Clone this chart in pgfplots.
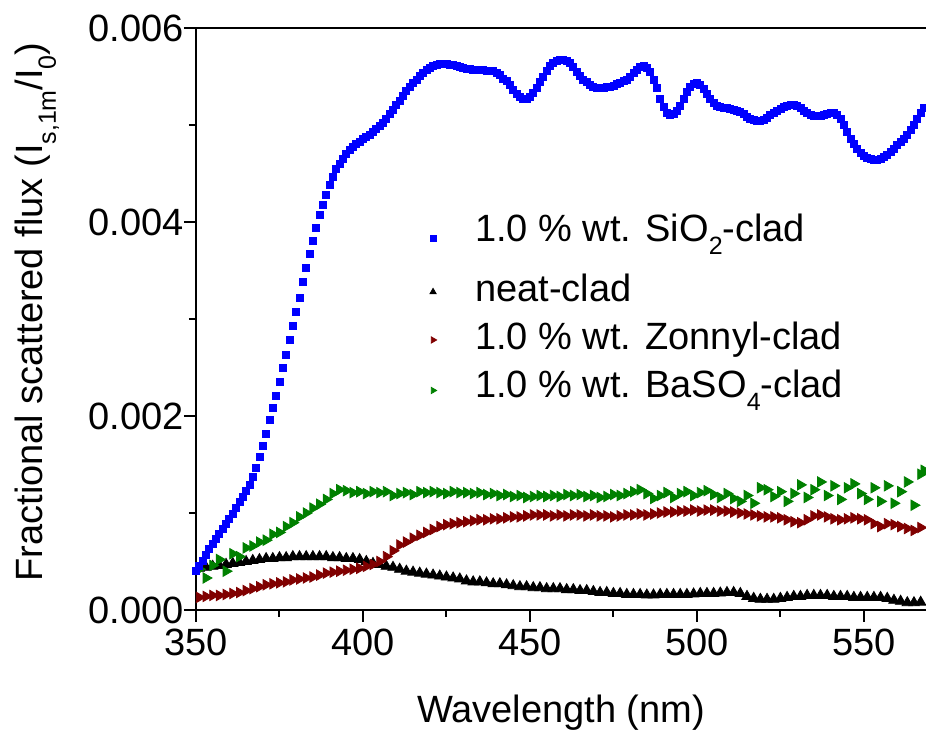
\documentclass[border=0pt]{standalone}
\usepackage{fontspec}
\setmainfont{Liberation Sans}
\usepackage{pgfplots}
\usepackage{pgfplotstable}
\pgfplotsset{compat=1.18}
\usetikzlibrary{calc}

\newcommand\sub[1]{\raisebox{-6.5pt}{\fontsize{12.5}{12.5}\selectfont #1}}
\newcommand\fs{\fontsize{19}{22.8}\selectfont}

% 1.0 % wt. SiO2-clad
\pgfplotstableread{
x y
350 0.00040
351 0.00045
352 0.00051
353 0.00057
354 0.00063
355 0.00068
356 0.00073
357 0.00078
358 0.00084
359 0.00089
360 0.00094
361 0.00099
362 0.00105
363 0.00111
364 0.00117
365 0.00123
366 0.00129
367 0.00137
368 0.00147
369 0.00158
370 0.00169
371 0.00182
372 0.00196
373 0.00208
374 0.00221
375 0.00235
376 0.00250
377 0.00263
378 0.00278
379 0.00293
380 0.00307
381 0.00322
382 0.00338
383 0.00353
384 0.00367
385 0.00381
386 0.00394
387 0.00407
388 0.00418
389 0.00428
390 0.00438
391 0.00447
392 0.00455
393 0.00460
394 0.00465
395 0.00470
396 0.00474
397 0.00477
398 0.00480
399 0.00483
400 0.00486
401 0.00488
402 0.00490
403 0.00493
404 0.00496
405 0.00499
406 0.00502
407 0.00506
408 0.00511
409 0.00516
410 0.00521
411 0.00525
412 0.00530
413 0.00535
414 0.00539
415 0.00543
416 0.00547
417 0.00551
418 0.00554
419 0.00557
420 0.00559
421 0.00561
422 0.00562
423 0.00563
424 0.00563
425 0.00563
426 0.00562
427 0.00562
428 0.00561
429 0.00560
430 0.00559
431 0.00558
432 0.00558
433 0.00557
434 0.00557
435 0.00557
436 0.00557
437 0.00556
438 0.00556
439 0.00556
440 0.00554
441 0.00552
442 0.00548
443 0.00545
444 0.00541
445 0.00536
446 0.00532
447 0.00529
448 0.00527
449 0.00527
450 0.00529
451 0.00533
452 0.00538
453 0.00544
454 0.00550
455 0.00556
456 0.00561
457 0.00564
458 0.00566
459 0.00567
460 0.00567
461 0.00566
462 0.00564
463 0.00560
464 0.00555
465 0.00551
466 0.00547
467 0.00544
468 0.00541
469 0.00539
470 0.00538
471 0.00538
472 0.00538
473 0.00539
474 0.00539
475 0.00540
476 0.00542
477 0.00543
478 0.00545
479 0.00547
480 0.00550
481 0.00554
482 0.00557
483 0.00560
484 0.00561
485 0.00559
486 0.00555
487 0.00547
488 0.00538
489 0.00527
490 0.00519
491 0.00512
492 0.00510
493 0.00511
494 0.00515
495 0.00520
496 0.00527
497 0.00534
498 0.00539
499 0.00542
500 0.00543
501 0.00541
502 0.00537
503 0.00532
504 0.00527
505 0.00523
506 0.00520
507 0.00519
508 0.00518
509 0.00518
510 0.00517
511 0.00516
512 0.00515
513 0.00513
514 0.00511
515 0.00508
516 0.00506
517 0.00505
518 0.00504
519 0.00504
520 0.00505
521 0.00507
522 0.00510
523 0.00512
524 0.00515
525 0.00517
526 0.00519
527 0.00520
528 0.00521
529 0.00521
530 0.00520
531 0.00518
532 0.00515
533 0.00512
534 0.00510
535 0.00509
536 0.00509
537 0.00509
538 0.00510
539 0.00511
540 0.00512
541 0.00512
542 0.00510
543 0.00506
544 0.00500
545 0.00493
546 0.00486
547 0.00480
548 0.00475
549 0.00471
550 0.00468
551 0.00466
552 0.00465
553 0.00464
554 0.00464
555 0.00465
556 0.00467
557 0.00469
558 0.00472
559 0.00475
560 0.00479
561 0.00483
562 0.00486
563 0.00490
564 0.00495
565 0.00500
566 0.00506
567 0.00512
568 0.00518
569 0.00524
}\silica

% neat-clad
\pgfplotstableread{
x y
351 0.000430
353 0.000440
355 0.000450
357 0.000460
359 0.000470
361 0.000480
363 0.000490
365 0.000500
367 0.000510
369 0.000520
371 0.000530
373 0.000530
375 0.000540
377 0.000540
379 0.000550
381 0.000550
383 0.000550
385 0.000550
387 0.000550
389 0.000550
391 0.000540
393 0.000540
395 0.000530
397 0.000530
399 0.000520
401 0.000500
403 0.000480
405 0.000470
407 0.000450
409 0.000440
411 0.000420
413 0.000400
415 0.000390
417 0.000380
419 0.000370
421 0.000360
423 0.000350
425 0.000340
427 0.000330
429 0.000320
431 0.000300
433 0.000290
435 0.000290
437 0.000280
439 0.000270
441 0.000270
443 0.000260
445 0.000250
447 0.000240
449 0.000240
451 0.000230
453 0.000230
455 0.000220
457 0.000220
459 0.000220
461 0.000210
463 0.000210
465 0.000200
467 0.000200
469 0.000190
471 0.000180
473 0.000180
475 0.000170
477 0.000170
479 0.000160
481 0.000160
483 0.000160
485 0.000155
487 0.000155
489 0.000160
491 0.000160
493 0.000160
495 0.000160
497 0.000160
499 0.000165
501 0.000170
503 0.000170
505 0.000170
507 0.000175
509 0.000180
511 0.000180
513 0.000170
515 0.000140
517 0.000120
519 0.000110
521 0.000110
523 0.000110
525 0.000120
527 0.000130
529 0.000140
531 0.000140
533 0.000150
535 0.000150
537 0.000150
539 0.000150
541 0.000140
543 0.000140
545 0.000140
547 0.000130
549 0.000130
551 0.000130
553 0.000130
555 0.000130
557 0.000120
559 0.000100
561 0.000090
563 0.000075
565 0.000075
567 0.000080
569 0.000090
}\neat

% 1.0 % wt. Zonnyl-clad
\pgfplotstableread{
x y
351 0.00013
353 0.00014
355 0.00015
357 0.00015
359 0.00016
361 0.00017
363 0.00018
365 0.00020
367 0.00022
369 0.00024
371 0.00026
373 0.00027
375 0.00028
377 0.00029
379 0.00031
381 0.00032
383 0.00033
385 0.00034
387 0.00036
389 0.00038
391 0.00039
393 0.00040
395 0.00041
397 0.00042
399 0.00043
401 0.00045
403 0.00047
405 0.00050
407 0.00055
409 0.00061
411 0.00067
413 0.00070
415 0.00074
417 0.00077
419 0.00080
421 0.00083
423 0.00086
425 0.00088
427 0.00089
429 0.00090
431 0.00091
433 0.00092
435 0.00093
437 0.00093
439 0.00094
441 0.00094
443 0.00095
445 0.00096
447 0.00096
449 0.00097
451 0.00098
453 0.00098
455 0.00098
457 0.00097
459 0.00098
461 0.00097
463 0.00098
465 0.00098
467 0.00097
469 0.00098
471 0.00097
473 0.00097
475 0.00096
477 0.00097
479 0.00098
481 0.00098
483 0.00099
485 0.00098
487 0.00099
489 0.00100
491 0.00101
493 0.00101
495 0.00102
497 0.00102
499 0.00103
501 0.00102
503 0.00103
505 0.00103
507 0.00102
509 0.00102
511 0.00101
513 0.00100
515 0.00099
517 0.00098
519 0.00097
521 0.00096
523 0.00096
525 0.00095
527 0.00093
529 0.00091
531 0.00090
533 0.00093
535 0.00097
537 0.00098
539 0.00096
541 0.00094
543 0.00093
545 0.00094
547 0.00095
549 0.00094
551 0.00093
553 0.00089
555 0.00086
557 0.00089
559 0.00088
561 0.00086
563 0.00084
565 0.00082
567 0.00085
569 0.00089
}\zonnyl

% 1.0 % wt. BaSO4-clad
\pgfplotstableread{
x y
351 0.00042
353 0.00033
355 0.00046
357 0.00052
359 0.00040
361 0.00058
363 0.00055
365 0.00064
367 0.00066
369 0.00070
371 0.00072
373 0.00078
375 0.00080
377 0.00086
379 0.00090
381 0.00096
383 0.00100
385 0.00105
387 0.00109
389 0.00114
391 0.00120
393 0.00124
395 0.00123
397 0.00121
399 0.00122
401 0.00120
403 0.00122
405 0.00121
407 0.00122
409 0.00118
411 0.00120
413 0.00121
415 0.00119
417 0.00122
419 0.00121
421 0.00122
423 0.00121
425 0.00120
427 0.00122
429 0.00121
431 0.00121
433 0.00120
435 0.00121
437 0.00119
439 0.00120
441 0.00118
443 0.00119
445 0.00117
447 0.00118
449 0.00116
451 0.00117
453 0.00118
455 0.00117
457 0.00118
459 0.00117
461 0.00119
463 0.00118
465 0.00119
467 0.00117
469 0.00118
471 0.00116
473 0.00117
475 0.00119
477 0.00118
479 0.00120
481 0.00122
483 0.00124
485 0.00120
487 0.00115
489 0.00118
491 0.00121
493 0.00116
495 0.00120
497 0.00122
499 0.00118
501 0.00121
503 0.00123
505 0.00119
507 0.00116
509 0.00120
511 0.00115
513 0.00112
515 0.00118
517 0.00110
519 0.00126
521 0.00124
523 0.00117
525 0.00122
527 0.00112
529 0.00120
531 0.00129
533 0.00116
535 0.00124
537 0.00132
539 0.00118
541 0.00128
543 0.00114
545 0.00126
547 0.00130
549 0.00120
551 0.00114
553 0.00126
555 0.00112
557 0.00128
559 0.00110
561 0.00122
563 0.00132
565 0.00108
567 0.00140
568 0.00144
}\barium

\pgfplotsset{
  legmark/.style={only marks,
    legend image code/.code={%
      \path[draw=none, fill=none] (0pt,-3pt) rectangle (29pt,3pt);
      \draw[mark repeat=2,mark phase=2] plot coordinates {(0pt,0pt)(10pt,0pt)(20pt,0pt)};}},
}

\begin{document}
\begin{tikzpicture}
\begin{axis}[
  scale only axis,
  width=365pt, height=291pt,
  xmin=350, xmax=568.6,
  ymin=0, ymax=0.006,
  enlargelimits=false,
  axis lines=left,
  axis line style={-, line width=1pt},
  tick style={line width=1pt, black},
  tick align=outside,
  major tick length=6pt,
  minor tick length=3.5pt,
  xtick={350,400,450,500,550},
  ytick={0,0.002,0.004,0.006},
  minor x tick num=1,
  minor y tick num=1,
  scaled y ticks=false,
  /pgf/number format/assume math mode=true,
  yticklabel style={xshift=3.5pt, /pgf/number format/.cd, fixed, fixed zerofill, precision=3},
  tick label style={font=\fs},
  every axis x label/.style={at={(axis description cs:0.5,0)}, anchor=base, yshift=-56.5pt, font=\fs},
  every axis y label/.style={at={(axis description cs:-0.2096,0.512)}, anchor=base, rotate=90, font=\fs},
  xlabel={Wavelength (nm)},
  ylabel={Fractional scattered flux (I\sub{s,1m}/I\sub{0})},
  legend cell align=left,
  legend style={at={(axis cs:415,0.004124)}, anchor=north west,
    draw=none, fill=none, inner sep=0pt, outer sep=0pt, row sep=2pt,
    font=\fs, nodes={inner sep=2pt, text depth=, text height=}},
]
\coordinate (bl) at (rel axis cs:0,0);
\coordinate (tl) at (rel axis cs:0,1);
\coordinate (tr) at (rel axis cs:1,1);

\addlegendimage{legmark, mark=square*, color=blue, mark size=1.5pt}
\addlegendentry{\rule[-10pt]{0pt}{24pt}1.0 \% wt. SiO\sub{2}-clad}
\addlegendimage{legmark, mark=triangle*, color=black, mark size=1.8pt}
\addlegendentry{\rule[-4pt]{0pt}{18pt}neat-clad}
\addlegendimage{legmark, mark=triangle*, color=red!50!black, mark size=1.8pt, mark options={rotate=-90}}
\addlegendentry{\rule[-4pt]{0pt}{18pt}1.0 \% wt. Zonnyl-clad}
\addlegendimage{legmark, mark=triangle*, color=green!50!black, mark size=1.8pt, mark options={rotate=-90}}
\addlegendentry{\rule[-4pt]{0pt}{18pt}1.0 \% wt. BaSO\sub{4}-clad}

\addplot[forget plot, only marks, mark=triangle*, color=black, mark options={scale=1.5}] table[x=x, y=y] {\neat};
\addplot[forget plot, only marks, mark=triangle*, color=red!50!black, mark options={scale=1.5, rotate=-90}] table[x=x, y=y] {\zonnyl};
\addplot[forget plot, only marks, mark=triangle*, color=green!50!black, mark options={scale=1.5, rotate=-90}] table[x=x, y=y] {\barium};
\addplot[forget plot, only marks, mark=square*, color=blue, mark size=1.75pt] table[x=x, y=y] {\silica};
\end{axis}
\draw[line width=1pt] (tl) -- (tr);
\pgfresetboundingbox
\useasboundingbox ($(bl)+(-98pt,-63pt)$) rectangle ($(tr)+(0,14pt)$);
\end{tikzpicture}
\end{document}
